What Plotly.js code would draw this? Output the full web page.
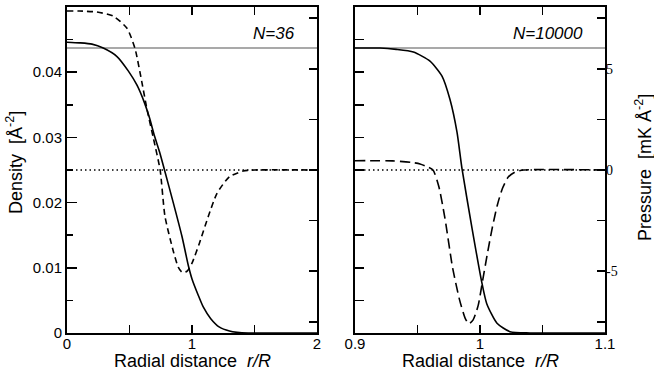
<!DOCTYPE html>
<html>
<head>
<meta charset="utf-8">
<script src="https://cdn.plot.ly/plotly-3.0.1.min.js"></script>
<style>
  html, body { margin: 0; padding: 0; background: #fff; }
  #chart { width: 654px; height: 370px; }
</style>
</head>
<body>
<div id="chart"></div>
<script>
/* Data */
// N=36 panel
const r_small_density = [0, 0.1, 0.2, 0.29, 0.4, 0.49, 0.56, 0.62, 0.66, 0.70, 0.74, 0.78, 0.85, 0.92, 0.97, 1.0, 1.05, 1.09, 1.15, 1.22, 1.3, 1.36, 1.45, 1.6, 2.0];
const density_small = [0.0446, 0.0445, 0.0443, 0.0437, 0.0424, 0.0402, 0.0380, 0.0353, 0.0330, 0.0302, 0.0278, 0.0250, 0.0200, 0.0148, 0.0104, 0.0083, 0.0058, 0.0040, 0.0022, 0.0009, 0.0003, 0.0001, 0, 0, 0];
const r_small_pressure = [0, 0.1, 0.24, 0.37, 0.48, 0.544, 0.6, 0.64, 0.69, 0.745, 0.784, 0.85, 0.89, 0.92, 0.96, 1.0, 1.06, 1.13, 1.2, 1.3, 1.41, 1.5, 2.0];
const pressure_small = [7.85, 7.85, 7.8, 7.6, 7.0, 6.0, 4.3, 3.0, 1.6, 0, -2.3, -4.0, -4.8, -5.05, -5.0, -4.6, -3.6, -2.3, -1.15, -0.33, -0.05, 0, 0];

// N=10000 panel
const r_large_density = [0.9, 0.92, 0.933, 0.9467, 0.96, 0.9696, 0.976, 0.9816, 0.9856, 0.9936, 1.0014, 1.0054, 1.0136, 1.024, 1.04, 1.1];
const density_large = [0.0437, 0.0437, 0.0435, 0.0431, 0.0417, 0.0394, 0.0358, 0.0308, 0.0252, 0.0161, 0.0078, 0.0045, 0.0015, 0.0002, 0, 0];
const r_large_pressure = [0.9, 0.93, 0.945, 0.952, 0.957, 0.9624, 0.967, 0.972, 0.978, 0.9836, 0.988, 0.991, 0.9945, 0.9985, 1.002, 1.006, 1.010, 1.014, 1.018, 1.0226, 1.028, 1.035, 1.1];
const pressure_large = [0.46, 0.45, 0.38, 0.3, 0.18, 0, -0.8, -2.4, -4.8, -6.4, -7.3, -7.6, -7.4, -6.7, -5.5, -4.1, -2.8, -1.7, -0.9, -0.35, -0.1, 0, 0];

// reference levels
const bulk_density = 0.0437;
const zero_pressure = 0;

const panel_labels = ['N=36', 'N=10000'];

// ticks
const x_ticks_small = [0, 0.5, 1, 1.5, 2];
const x_text_small = ['0', '', '1', '', '2'];
const x_ticks_large = [0.9, 0.95, 1, 1.05, 1.1];
const x_text_large = ['0.9', '', '1', '', '1.1'];
const density_ticks = [0, 0.01, 0.02, 0.03, 0.04, 0.05];
const density_text = ['0', '0.01', '0.02', '0.03', '0.04', '0.05'];
const density_ticks_fine = [0, 0.005, 0.01, 0.015, 0.02, 0.025, 0.03, 0.035, 0.04, 0.045, 0.05];
const pressure_ticks = [-7.5, -5, -2.5, 0, 2.5, 5, 7.5];
const pressure_text = ['', '-5', '', '0', '', '5', ''];

const x_title = 'Radial distance\u00a0\u00a0<i>r/R</i>';
const density_title = 'Density\u00a0\u00a0[Å<sup>-2</sup>]';
const pressure_title = 'Pressure\u00a0\u00a0[mK Å<sup>-2</sup>]';

/* helpers */
const sans = 'Liberation Sans, Arial, sans-serif';
const serif = 'Liberation Serif, Times New Roman, serif';
const y_domain = [0.1, 0.9811];

const solid_line = (xs, ys, xa, ya) => ({
  x: xs, y: ys, xaxis: xa, yaxis: ya, mode: 'lines', hoverinfo: 'skip',
  line: {color: 'black', width: 1.6, shape: 'spline', smoothing: 0.6},
});
const dashed_line = (xs, ys, xa, ya, dash) => ({
  x: xs, y: ys, xaxis: xa, yaxis: ya, mode: 'lines', hoverinfo: 'skip',
  line: {color: 'black', width: 1.6, dash: dash, shape: 'spline', smoothing: 0.6},
});

const x_axis = (domain, range, tickvals, ticktext, anchor) => ({
  domain: domain, range: range, anchor: anchor,
  tickmode: 'array', tickvals: tickvals, ticktext: ticktext,
  ticks: 'inside', ticklen: 8, tickwidth: 1.5, tickcolor: 'black',
  ticklabelstandoff: -4,
  showline: true, linecolor: 'black', linewidth: 2, mirror: 'ticks',
  showgrid: false, zeroline: false,
  tickfont: {family: sans, size: 15, color: 'black'},
});

const data = [
  dashed_line(r_small_pressure, pressure_small, 'x', 'y2', '6px,4px'),
  solid_line(r_small_density, density_small, 'x', 'y'),
  dashed_line(r_large_pressure, pressure_large, 'x2', 'y4', '10px,5px'),
  solid_line(r_large_density, density_large, 'x2', 'y3'),
];

const ref_shapes = [];
for (const [xa, ya, pa] of [['x', 'y', 'y2'], ['x2', 'y3', 'y4']]) {
  ref_shapes.push({
    type: 'line', xref: `${xa} domain`, yref: ya, x0: 0, x1: 1, y0: bulk_density, y1: bulk_density,
    line: {color: '#8c8c8c', width: 1.6}, layer: 'below',
  });
  ref_shapes.push({
    type: 'line', xref: `${xa} domain`, yref: pa, x0: 0, x1: 1, y0: zero_pressure, y1: zero_pressure,
    line: {color: 'black', width: 1.5, dash: '1.5px,3px'}, layer: 'below',
  });
}

const annotations = [
  {xref: 'x domain', yref: 'y domain', x: 0.92, y: 0.92, xanchor: 'right', yanchor: 'middle',
   text: `<i>${panel_labels[0]}</i>`, showarrow: false, font: {family: sans, size: 17, color: 'black'}},
  {xref: 'x2 domain', yref: 'y3 domain', x: 0.92, y: 0.92, xanchor: 'right', yanchor: 'middle',
   text: `<i>${panel_labels[1]}</i>`, showarrow: false, font: {family: sans, size: 17, color: 'black'}},
  {xref: 'x domain', yref: 'paper', x: 0.5, y: 9 / 370, xanchor: 'center', yanchor: 'middle',
   text: x_title, showarrow: false, font: {family: sans, size: 18, color: 'black'}},
  {xref: 'x2 domain', yref: 'paper', x: 0.5, y: 9 / 370, xanchor: 'center', yanchor: 'middle',
   text: x_title, showarrow: false, font: {family: sans, size: 18, color: 'black'}},
  {xref: 'paper', yref: 'paper', x: 15 / 654, y: 1 - 163 / 370, xanchor: 'center', yanchor: 'middle',
   textangle: -90, text: density_title, showarrow: false, font: {family: sans, size: 18, color: 'black'}},
  {xref: 'paper', yref: 'paper', x: 643 / 654, y: 1 - 168 / 370, xanchor: 'center', yanchor: 'middle',
   textangle: -90, text: pressure_title, showarrow: false, font: {family: sans, size: 18, color: 'black'}},
];

const layout = {
  width: 654, height: 370,
  margin: {l: 0, r: 0, t: 0, b: 0},
  paper_bgcolor: 'white', plot_bgcolor: 'white',
  showlegend: false,
  xaxis: x_axis([67 / 654, 317 / 654], [0, 2], x_ticks_small, x_text_small, 'y'),
  xaxis2: x_axis([355 / 654, 605 / 654], [0.9, 1.1], x_ticks_large, x_text_large, 'y3'),
  yaxis: {
    domain: y_domain, range: [0, 0.05], anchor: 'x',
    tickmode: 'array', tickvals: density_ticks, ticktext: density_text,
    ticks: 'inside', ticklen: 10, tickwidth: 1.5, tickcolor: 'black',
    minor: {tickmode: 'array', tickvals: density_ticks_fine, ticks: 'inside', ticklen: 6, tickwidth: 1.5, tickcolor: 'black', showgrid: false},
    showline: true, linecolor: 'black', linewidth: 2, mirror: true,
    showgrid: false, zeroline: false,
    tickfont: {family: sans, size: 15, color: 'black'},
  },
  yaxis2: {
    overlaying: 'y', side: 'right', anchor: 'x', range: [-8.05, 8.05],
    tickmode: 'array', tickvals: pressure_ticks, showticklabels: false,
    ticks: 'inside', ticklen: 8, tickwidth: 1.5, tickcolor: 'black',
    showline: false, showgrid: false, zeroline: false,
  },
  yaxis3: {
    domain: y_domain, range: [0, 0.05], anchor: 'x2',
    tickmode: 'array', tickvals: density_ticks_fine, showticklabels: false,
    ticks: 'inside', ticklen: 9, tickwidth: 1.5, tickcolor: 'black',
    showline: true, linecolor: 'black', linewidth: 2, mirror: true,
    showgrid: false, zeroline: false,
  },
  yaxis4: {
    overlaying: 'y3', side: 'right', anchor: 'x2', range: [-8.05, 8.05],
    tickmode: 'array', tickvals: pressure_ticks, ticktext: pressure_text,
    ticks: 'inside', ticklen: 8, tickwidth: 1.5, tickcolor: 'black',
    showline: false, showgrid: false, zeroline: false,
    tickfont: {family: serif, size: 14, color: 'black'},
  },
  shapes: ref_shapes,
  annotations: annotations,
};

Plotly.newPlot('chart', data, layout, {staticPlot: true, displayModeBar: false});
</script>
</body>
</html>
